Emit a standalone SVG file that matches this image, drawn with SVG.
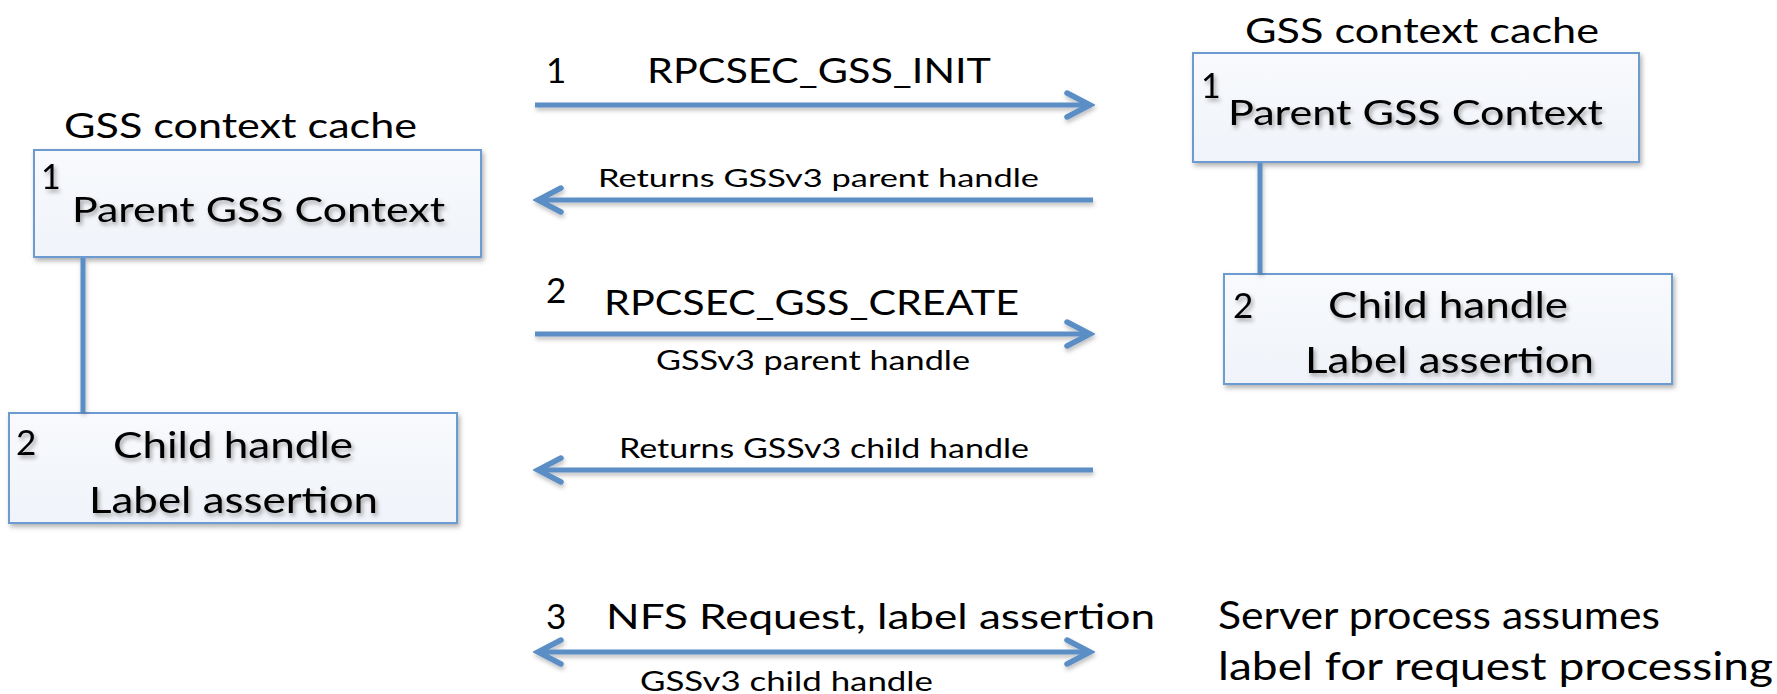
<svg xmlns="http://www.w3.org/2000/svg" width="1777" height="694" viewBox="0 0 1777 694">
<style>
  text { font-family: Lato, "Open Sans", "Liberation Sans", sans-serif; fill: #000; }
  .box { fill: url(#boxfill); stroke: #6c9bd2; stroke-width: 2; filter: url(#shadow); }
  .link { stroke: #5b8ec6; stroke-width: 5; fill: none; filter: url(#lshadow); }
  .arrow { stroke: #5b8ec6; stroke-width: 5; fill: none; filter: url(#lshadow); }
  .title { font-size: 35px; }
  .big { font-size: 35px; filter: url(#tshadow); }
  .child { font-size: 37px; filter: url(#tshadow); }
  .num { font-size: 34px; }
  .msg { font-size: 35px; }
  .small { font-size: 25px; }
  .note { font-size: 38px; }
</style>
<defs>
  <linearGradient id="boxfill" x1="0" y1="0" x2="0" y2="1">
    <stop offset="0" stop-color="#f8fafd"/>
    <stop offset="1" stop-color="#f0f3f9"/>
  </linearGradient>
  <filter id="shadow" x="-5%" y="-10%" width="115%" height="130%">
    <feDropShadow dx="2" dy="3" stdDeviation="2.5" flood-color="#000" flood-opacity="0.3"/>
  </filter>
  <filter id="tshadow" x="-5%" y="-20%" width="115%" height="150%">
    <feDropShadow dx="2" dy="3" stdDeviation="2" flood-color="#000" flood-opacity="0.35"/>
  </filter>
  <filter id="lshadow" filterUnits="userSpaceOnUse" x="0" y="0" width="1777" height="694">
    <feDropShadow dx="1" dy="3" stdDeviation="2" flood-color="#000" flood-opacity="0.25"/>
  </filter>
  <marker id="chev" viewBox="0 0 34 34" refX="29" refY="17" markerWidth="34" markerHeight="34" markerUnits="userSpaceOnUse" orient="auto-start-reverse">
    <path d="M 6 5 L 29 17 L 6 29" fill="none" stroke="#5b8ec6" stroke-width="5.5" stroke-linecap="round" stroke-linejoin="miter"/>
  </marker>
</defs>

<g id="client-cache">
  <text class="title" x="64" y="138" textLength="353" lengthAdjust="spacingAndGlyphs">GSS context cache</text>
</g>
<g id="client-parent">
  <rect class="box" x="34" y="150" width="447" height="107"/>
  <text class="num" x="41" y="189" filter="url(#tshadow)">1</text>
  <text class="big" x="72" y="222" textLength="373" lengthAdjust="spacingAndGlyphs">Parent GSS Context</text>
</g>
<g id="client-child">
  <rect class="box" x="9" y="413" width="448" height="110"/>
  <text class="num" x="16" y="455" filter="url(#tshadow)" style="font-size:35px">2</text>
  <text class="child" x="113" y="458" textLength="240" lengthAdjust="spacingAndGlyphs">Child handle</text>
  <text class="child" x="89" y="513" textLength="289" lengthAdjust="spacingAndGlyphs">Label assertion</text>
</g>

<g id="server-cache">
  <text class="title" x="1245" y="43" textLength="354" lengthAdjust="spacingAndGlyphs">GSS context cache</text>
</g>
<g id="server-parent">
  <rect class="box" x="1193" y="53" width="446" height="109"/>
  <text class="num" x="1201" y="98" filter="url(#tshadow)">1</text>
  <text class="big" x="1228" y="125" textLength="375" lengthAdjust="spacingAndGlyphs">Parent GSS Context</text>
</g>
<g id="server-child">
  <rect class="box" x="1224" y="274" width="448" height="110"/>
  <text class="num" x="1233" y="318" filter="url(#tshadow)" style="font-size:35px">2</text>
  <text class="child" x="1328" y="318" textLength="240" lengthAdjust="spacingAndGlyphs">Child handle</text>
  <text class="child" x="1305" y="373" textLength="289" lengthAdjust="spacingAndGlyphs">Label assertion</text>
</g>

<g id="server-note">
  <text class="note" x="1218" y="629" textLength="442" lengthAdjust="spacingAndGlyphs">Server process assumes</text>
  <text class="note" x="1218" y="680" textLength="555" lengthAdjust="spacingAndGlyphs">label for request processing</text>
</g>

<g id="connectors">
  <line class="link" x1="83" y1="258" x2="83" y2="412"/>
  <line class="link" x1="1260" y1="163" x2="1260" y2="273"/>

  <line class="arrow" x1="535" y1="105" x2="1090" y2="105" marker-end="url(#chev)"/>
  <line class="arrow" x1="1093" y1="200" x2="538" y2="200" marker-end="url(#chev)"/>
  <line class="arrow" x1="535" y1="334" x2="1090" y2="334" marker-end="url(#chev)"/>
  <line class="arrow" x1="1093" y1="470" x2="538" y2="470" marker-end="url(#chev)"/>
  <line class="arrow" x1="538" y1="652" x2="1090" y2="652" marker-start="url(#chev)" marker-end="url(#chev)"/>

  <text class="num" x="546" y="83" style="font-size:35px">1</text>
  <text class="msg" x="647" y="83" textLength="344" lengthAdjust="spacingAndGlyphs">RPCSEC_GSS_INIT</text>
  <text class="small" x="598" y="187" textLength="441" lengthAdjust="spacingAndGlyphs">Returns GSSv3 parent handle</text>
  <text class="num" x="546" y="303" style="font-size:35px">2</text>
  <text class="msg" x="604" y="315" textLength="415" lengthAdjust="spacingAndGlyphs">RPCSEC_GSS_CREATE</text>
  <text class="small" x="656" y="370" textLength="314" lengthAdjust="spacingAndGlyphs" style="font-size:27px">GSSv3 parent handle</text>
  <text class="small" x="619" y="458" textLength="410" lengthAdjust="spacingAndGlyphs" style="font-size:27px">Returns GSSv3 child handle</text>
  <text class="num" x="546" y="629" style="font-size:35px">3</text>
  <text class="msg" x="606" y="629" textLength="549" lengthAdjust="spacingAndGlyphs">NFS Request, label assertion</text>
  <text class="small" x="640" y="691" textLength="293" lengthAdjust="spacingAndGlyphs" style="font-size:27px">GSSv3 child handle</text>
</g>
</svg>
